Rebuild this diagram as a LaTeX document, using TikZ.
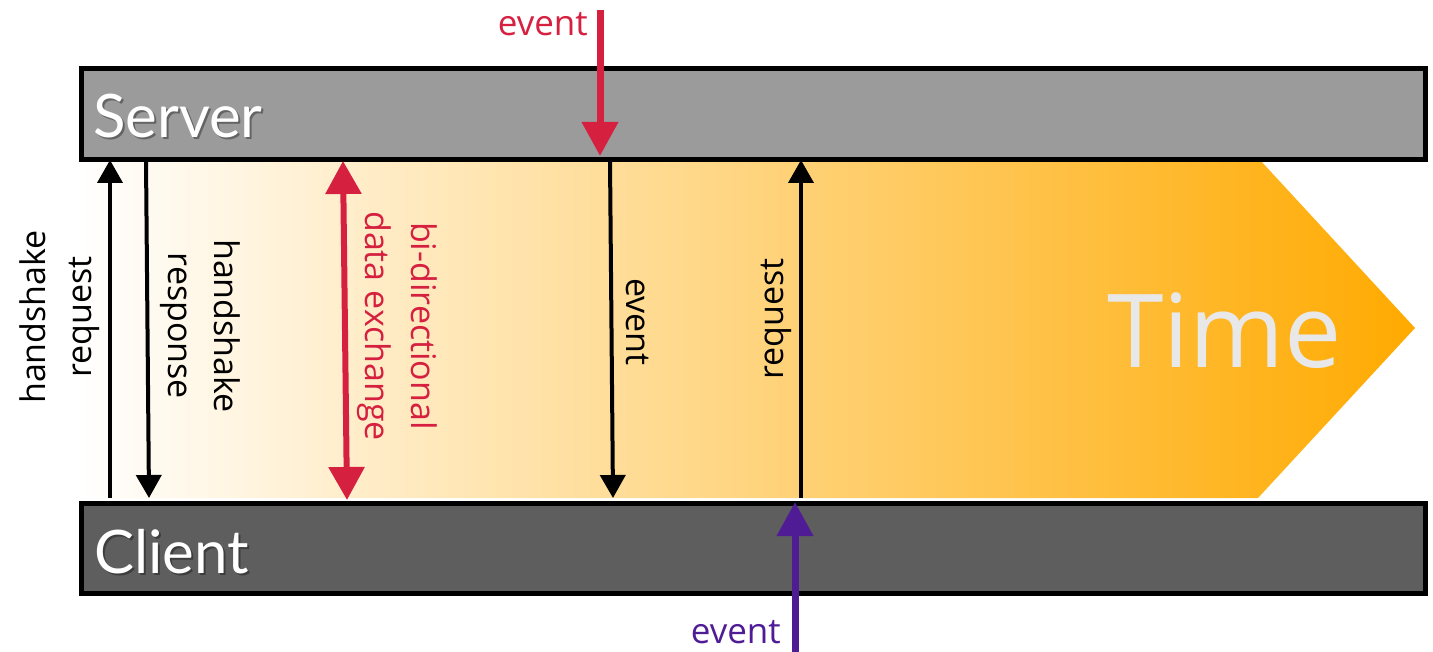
\documentclass[tikz,border=0pt]{standalone}
\usepackage{fontspec}
\setmainfont{Open Sans}
\newfontfamily\barfont{Lato}
\usetikzlibrary{arrows.meta}
\definecolor{evred}{RGB}{214,32,64}
\definecolor{evpurple}{RGB}{80,28,150}
\definecolor{srvgray}{RGB}{155,155,155}
\definecolor{cligray}{RGB}{94,94,94}
\definecolor{timeorange}{RGB}{255,170,0}
\definecolor{timetext}{RGB}{232,232,232}
\begin{document}
\begin{tikzpicture}[x=1pt,y=-1pt,
  bar/.style={draw=black,line width=5pt},
  barlabel/.style={font=\barfont\fontsize{60}{72}\selectfont,text=white,anchor=base west,inner sep=0pt},
  barshadow/.style={font=\barfont\fontsize{60}{72}\selectfont,text=black,opacity=0.35,anchor=base west,inner sep=0pt},
  lbl/.style={font=\fontsize{34}{46}\selectfont,align=center,inner sep=0pt},
  msg/.style={line width=4pt,-{Triangle[width=25pt,length=23pt]}},
  bimsg/.style={draw=evred,line width=6pt,{Triangle[width=35pt,length=33pt]}-{Triangle[width=35pt,length=33pt]}},
  extev/.style={line width=7pt,-{Triangle[width=35pt,length=34pt]}},
  evtext/.style={font=\fontsize{35}{42}\selectfont,inner sep=0pt}
]
\useasboundingbox (0,0) rectangle (1433,652);
% time arrow
\shade[left color=white,right color=timeorange] (78,160) -- (1260,160) -- (1415,328) -- (1258,498) -- (78,498) -- cycle;
\node[font=\fontsize{102}{120}\selectfont,text=timetext,anchor=base west,inner sep=0pt] (time) at (1107,368) {Time};
% bars
\node[bar,fill=srvgray,minimum width=1344.5pt,minimum height=91pt,anchor=north west,inner sep=0pt] (server) at (78.5,66.5) {};
\node[bar,fill=cligray,minimum width=1344.5pt,minimum height=90pt,anchor=north west,inner sep=0pt] (client) at (78.5,501) {};
\node[barshadow] (servershadow) at (95,140) {Server};
\node[barlabel] (serverlabel) at (93,138) {Server};
\node[barshadow] (clientshadow) at (96,575) {Client};
\node[barlabel] (clientlabel) at (94,573) {Client};
% coordinates
\coordinate (hqB) at (110,498);
\coordinate (hqT) at (110,160);
\coordinate (hrT) at (146,160);
\coordinate (hrB) at (149,498);
\coordinate (biT) at (343,161);
\coordinate (biB) at (347,500);
\coordinate (evT) at (610,160);
\coordinate (evB) at (613,498);
\coordinate (rqB) at (801,498);
\coordinate (rqT) at (801,160);
\coordinate (xeT) at (600,10);
\coordinate (xeB) at (600,156);
\coordinate (xpB) at (795,652);
\coordinate (xpT) at (795,502);
% arrows
\draw[msg] (hqB) -- (hqT);
\draw[msg] (hrT) -- (hrB);
\draw[bimsg] (biT) -- (biB);
\draw[msg] (evT) -- (evB);
\draw[msg] (rqB) -- (rqT);
\draw[extev,draw=evred] (xeT) -- (xeB);
\draw[extev,draw=evpurple] (xpB) -- (xpT);
% labels
\node[lbl,rotate=90] (hqlabel) at (60,317) {handshake\\request};
\node[lbl,rotate=-90] (hrlabel) at (200,326) {handshake\\response};
\node[lbl,rotate=-90,text=evred] (bilabel) at (397,326) {bi-directional\\data exchange};
\node[lbl,rotate=-90] (evlabel) at (638,322) {event};
\node[lbl,rotate=90] (rqlabel) at (776,319) {request};
\node[evtext,text=evred,anchor=base east] (xelabel) at (588,36) {event};
\node[evtext,text=evpurple,anchor=base east] (xplabel) at (781,643) {event};
\end{tikzpicture}
\end{document}
